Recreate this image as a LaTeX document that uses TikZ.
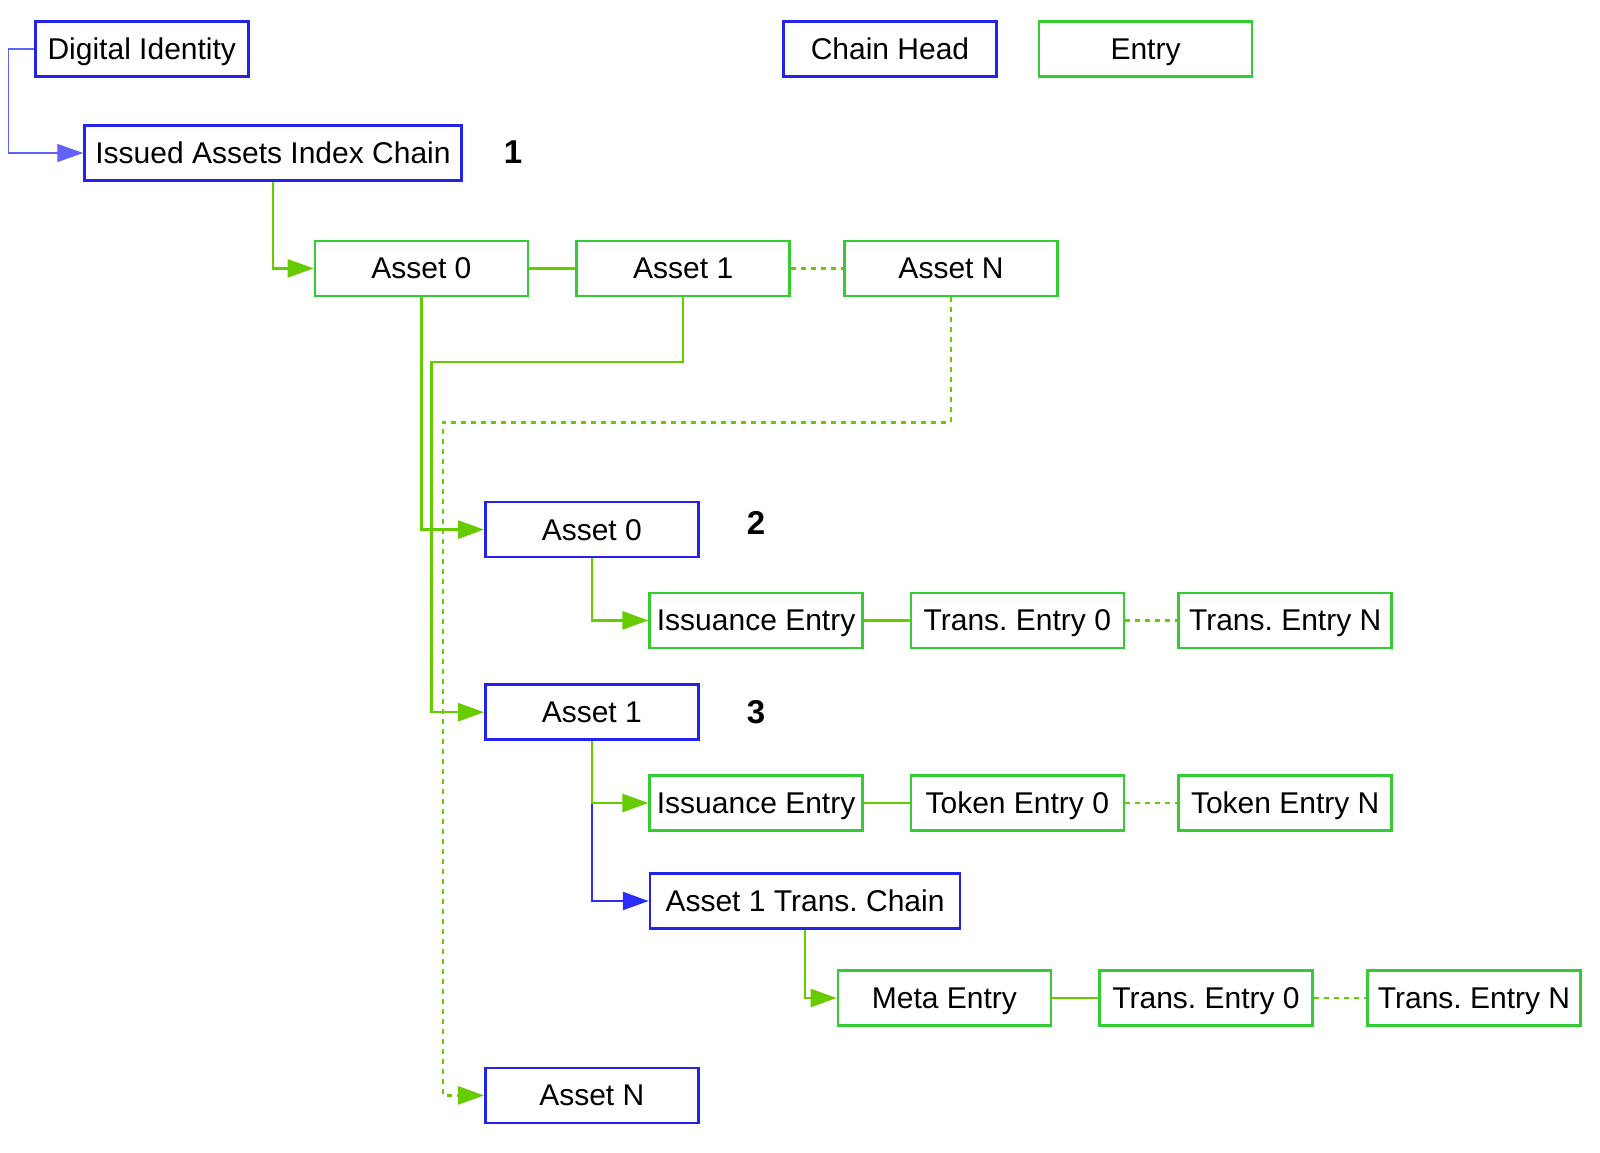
\documentclass[tikz,border=0pt]{standalone}
\usepackage{fontspec}
\setmainfont{Liberation Sans}
\usepackage{tikz}
\usetikzlibrary{arrows.meta}
\usepackage{xcolor}
\frenchspacing

\definecolor{headblue}{RGB}{35,35,235}
\definecolor{linkblue}{RGB}{45,45,250}
\definecolor{entrygreen}{RGB}{51,204,51}
\definecolor{linkgreen}{RGB}{102,204,0}

\begin{document}
\begin{tikzpicture}[
    x=1pt, y=-1pt,
    every node/.style={font=\fontsize{30}{36}\selectfont, inner sep=2pt, text height=24pt, text depth=3pt},
    head/.style={draw=headblue, line width=2.5pt, minimum width=213pt, minimum height=55pt},
    entry/.style={draw=entrygreen, line width=2.5pt, minimum width=213pt, minimum height=55pt},
    num/.style={font=\fontsize{33}{38}\selectfont\bfseries},
    tip/.style={-{Triangle[length=26pt, width=18pt]}},
    glink/.style={tip, draw=linkgreen, line width=2.5pt},
    gline/.style={draw=linkgreen, line width=2.5pt},
    gdot/.style={draw=linkgreen, line width=2.5pt, dash pattern=on 5pt off 5pt},
    blink/.style={tip, draw=linkblue, line width=2.5pt}
]
\useasboundingbox (0,0) rectangle (1600,1153);

% legend
\node[head] (legendhead) at (890, 49) {Chain Head};
\node[entry] (legendentry) at (1145.5, 49) {Entry};

% identity and index chain
\node[head] (ident) at (141.8, 49) {Digital Identity};
\node[head, minimum width=377pt] (index) at (273, 153) {Issued Assets Index Chain};
\node[num] (lbl1) at (513, 153.5) {1};

\node[entry] (idx0) at (421.4, 268.4) {Asset 0};
\node[entry] (idx1) at (683.2, 268.4) {Asset 1};
\node[entry] (idxn) at (951, 268.4) {Asset N};

% asset chains
\node[head] (asset0) at (591.8, 529.6) {Asset 0};
\node[num] (lbl2) at (756, 524) {2};
\node[entry] (issue0) at (756.1, 620.4) {Issuance Entry};
\node[entry] (trans0) at (1017.3, 620.4) {Trans. Entry 0};
\node[entry] (transn) at (1285.2, 620.4) {Trans. Entry N};

\node[head] (asset1) at (591.8, 712.2) {Asset 1};
\node[num] (lbl3) at (756, 712.5) {3};
\node[entry] (issue1) at (756.1, 803) {Issuance Entry};
\node[entry] (token0) at (1017.3, 803) {Token Entry 0};
\node[entry] (tokenn) at (1285.2, 803) {Token Entry N};

\node[head, minimum width=310pt] (tchain) at (805, 901) {Asset 1 Trans. Chain};
\node[entry] (meta) at (944.4, 998) {Meta Entry};
\node[entry] (mtrans0) at (1206, 998) {Trans. Entry 0};
\node[entry] (mtransn) at (1474, 998) {Trans. Entry N};

\node[head] (assetn) at (591.8, 1095.4) {Asset N};

% connectors
\draw[tip, draw=linkblue!75, line width=1.2pt] (ident.west) -- ++(-25.5,0) |- (index.west);
\draw[glink] (index.south) |- (idx0.west);
\draw[gline] (idx0) -- (idx1);
\draw[gdot] (idx1) -- (idxn);

\draw[glink] (idx0.south) |- (asset0.west);
\draw[glink] (idx1.south) |- (431.6, 362.2) |- (asset1.west);
\draw[glink, dash pattern=on 5pt off 5pt] (idxn.south) |- (442.9, 422.4) |- (assetn.west);

\draw[glink] (asset0.south) |- (issue0.west);
\draw[gline] (issue0) -- (trans0);
\draw[gdot] (trans0) -- (transn);

\draw[blink] (asset1.south) |- (tchain.west);
\draw[glink] (asset1.south) |- (issue1.west);
\draw[gline] (issue1) -- (token0);
\draw[gdot] (token0) -- (tokenn);

\draw[glink] (tchain.south) |- (meta.west);
\draw[gline] (meta) -- (mtrans0);
\draw[gdot] (mtrans0) -- (mtransn);
\end{tikzpicture}
\end{document}
